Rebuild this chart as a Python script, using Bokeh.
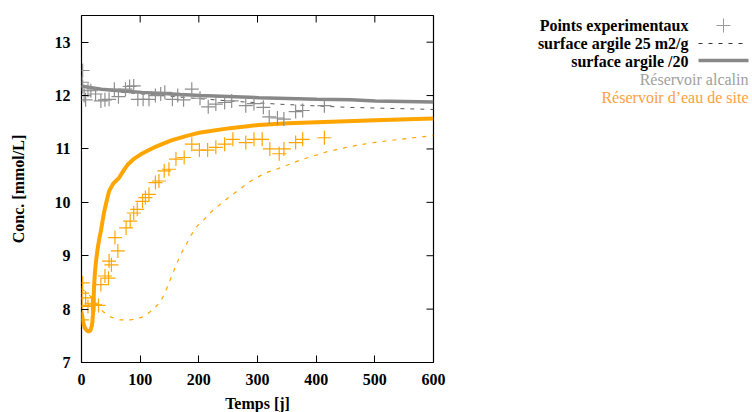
from bokeh.plotting import figure
from bokeh.models import Range1d, FixedTicker
from bokeh.layouts import row
from bokeh.embed import file_html
from bokeh.resources import INLINE
from bokeh.core.properties import value

# ---- data ----
# experimental points, alkaline reservoir (grey)
alc_pts_x = [2, 1, 2, 4.5, 7, 11, 16, 24, 33, 40, 47, 56, 63, 75, 82, 89, 96, 105, 115,
             126, 135, 142, 155, 164, 174, 188, 202, 216, 229, 244, 256, 280, 294, 310,
             320, 334, 345, 365, 377, 414]
alc_pts_y = [12.47, 12.25, 12.17, 12.0, 11.92, 12.1, 12.09, 12.03, 11.9, 11.92, 11.93,
             12.12, 11.98, 12.12, 12.17, 12.18, 11.93, 11.93, 11.93, 12.0, 12.03, 12.06,
             11.93, 12.0, 11.92, 12.12, 11.95, 11.79, 11.84, 11.87, 11.9, 11.81, 11.85,
             11.78, 11.6, 11.58, 11.56, 11.7, 11.72, 11.81]
# experimental points, site water reservoir (orange)
site_pts_x = [2, 1, 1, 1, 7, 11, 17, 23, 29, 33, 40, 46, 47, 51, 57, 62, 76, 83, 89, 95,
              104, 109, 115, 126, 132, 141, 149, 161, 175, 188, 201, 215, 229, 244, 258,
              280, 294, 308, 321, 337, 345, 365, 377, 414]
site_pts_y = [8.49, 8.3, 8.07, 7.8, 8.21, 8.05, 8.11, 8.08, 8.07, 8.46, 8.62, 8.58, 8.9,
              8.83, 9.34, 9.09, 9.52, 9.65, 9.8, 9.87, 10.02, 10.09, 10.15, 10.37, 10.4,
              10.59, 10.62, 10.81, 10.84, 11.09, 10.98, 10.98, 11.03, 11.09, 11.18, 11.12,
              11.18, 11.18, 11.0, 10.91, 11.0, 11.12, 11.18, 11.21]
# model, clay surface 25 m2/g (dashed)
alc_s25_x = [0, 29, 54, 103, 169, 203, 252, 334, 453, 600]
alc_s25_y = [12.19, 12.12, 12.08, 12.03, 11.97, 11.94, 11.9, 11.84, 11.78, 11.74]
site_s25_x = [0, 13, 25, 37, 50, 65, 84, 104, 121, 134, 142, 149, 156, 162, 169, 178,
              186, 196, 209, 223, 237, 252, 270, 294, 316, 340, 375, 419, 460, 498, 550, 600]
site_s25_y = [8.38, 8.27, 8.1, 7.95, 7.85, 7.8, 7.8, 7.85, 7.98, 8.13, 8.3, 8.49, 8.68,
              8.85, 9.02, 9.2, 9.37, 9.54, 9.68, 9.84, 9.97, 10.1, 10.25, 10.44, 10.56,
              10.65, 10.8, 10.95, 11.05, 11.12, 11.19, 11.25]
# model, clay surface /20 (solid)
alc_s20_x = [0, 14, 34, 54, 103, 169, 203, 302, 401, 459, 501, 600]
alc_s20_y = [12.18, 12.15, 12.12, 12.1, 12.06, 12.02, 12.0, 11.96, 11.93, 11.92, 11.9, 11.88]
site_s20_x = [0, 3, 6, 9, 12, 15, 17, 18.5, 19.5, 20.5, 21.6, 23, 25, 27, 30, 33, 36, 39,
              43, 47, 54, 64, 72, 79, 90, 101, 115, 128, 153, 178, 203, 253, 302, 352,
              401, 501, 600]
site_s20_y = [7.95, 7.75, 7.64, 7.6, 7.58, 7.6, 7.66, 7.75, 7.9, 8.15, 8.46, 8.7, 8.92,
              9.09, 9.3, 9.46, 9.66, 9.84, 10.03, 10.21, 10.35, 10.46, 10.6, 10.71, 10.82,
              10.9, 10.98, 11.05, 11.16, 11.24, 11.31, 11.39, 11.45, 11.48, 11.5, 11.54,
              11.57]

x_ticks = [0, 100, 200, 300, 400, 500, 600]
y_ticks = [7, 8, 9, 10, 11, 12, 13]
legend_labels = ["Points experimentaux", "surface argile 25 m2/g", "surface argile /20"]
reservoir_labels = ["Réservoir alcalin", "Réservoir d\u2019eau de site"]

GREY = "#888888"
GREY_PTS = "#8e8e8e"
ORANGE = "#ffa500"
FONT = "Liberation Serif"

X0, X1, Y0, Y1 = 0, 600, 7, 13.5
FW, FH = 352, 347          # frame size in px
LEFT, TOP, RIGHT = 81, 15, 20
MAIN_W = LEFT + FW + RIGHT

p = figure(frame_width=FW, frame_height=FH, x_range=Range1d(X0, X1), y_range=Range1d(Y0, Y1),
           output_backend="svg", toolbar_location=None,
           min_border_left=LEFT, min_border_top=TOP, min_border_right=RIGHT,
           min_border_bottom=10)
p.grid.visible = False
p.outline_line_color = "black"
p.outline_line_width = 1.2
p.background_fill_color = "white"

for ax in (p.xaxis[0], p.yaxis[0]):
    ax.major_tick_in = 7
    ax.major_tick_out = 0
    ax.minor_tick_line_color = None
    ax.axis_line_color = None
    ax.major_tick_line_color = "black"
    ax.major_label_text_font = FONT
    ax.major_label_text_font_style = "bold"
    ax.major_label_text_font_size = "16px"
    ax.major_label_text_color = "black"
    ax.axis_label_text_font = FONT
    ax.axis_label_text_font_style = "bold"
    ax.axis_label_text_font_size = "16px"
    ax.axis_label_text_color = "black"

p.xaxis.ticker = FixedTicker(ticks=x_ticks)
p.yaxis.ticker = FixedTicker(ticks=y_ticks)
p.xaxis.axis_label = "Temps [j]"
p.yaxis.axis_label = "Conc. [mmol/L]"
p.xaxis.major_label_standoff = 11
p.xaxis.axis_label_standoff = 7
p.yaxis.major_label_standoff = 11
p.yaxis.axis_label_standoff = 25

# mirrored ticks (right and top), 7 px long
dx = 7 * (X1 - X0) / FW
dy = 7 * (Y1 - Y0) / FH
p.segment(x0=[X1 - dx] * len(y_ticks), y0=y_ticks, x1=[X1] * len(y_ticks), y1=y_ticks,
          line_color="black", line_width=1)
p.segment(x0=x_ticks, y0=[Y1 - dy] * len(x_ticks), x1=x_ticks, y1=[Y1] * len(x_ticks),
          line_color="black", line_width=1)

# models
p.line(alc_s25_x, alc_s25_y, line_color="#555555", line_width=1, line_dash="4 6")
p.line(site_s25_x, site_s25_y, line_color=ORANGE, line_width=1.2, line_dash="4 6")
p.line(alc_s20_x, alc_s20_y, line_color=GREY, line_width=3.5)
p.line(site_s20_x, site_s20_y, line_color=ORANGE, line_width=4)
# points
p.scatter(alc_pts_x, alc_pts_y, marker="cross", size=14, line_color=GREY_PTS, line_width=1.2)
p.scatter(site_pts_x, site_pts_y, marker="cross", size=14, line_color=ORANGE, line_width=1.2)

# ---- legend panel: its frame is aligned with the main frame; coords = page pixels ----
LG_W = 752 - MAIN_W
lg = figure(frame_width=LG_W, frame_height=FH, x_range=Range1d(MAIN_W, 752),
            y_range=Range1d(TOP + FH, TOP), output_backend="svg", toolbar_location=None,
            min_border_left=0, min_border_right=0, min_border_top=TOP, min_border_bottom=10)
lg.axis.visible = False
lg.grid.visible = False
lg.outline_line_color = None

lg.text(x=[688] * 3, y=[25, 43, 61], text=legend_labels, text_align="right",
        text_baseline="middle", text_font=value(FONT), text_font_style="bold",
        text_font_size="16px", text_color="black")
lg.text(x=[748] * 2, y=[79, 97], text=reservoir_labels, text_align="right",
        text_baseline="middle", text_font=value(FONT), text_font_size="16px",
        text_color=["#a0a0a0", "#ffa040"])
lg.scatter([723], [25], marker="cross", size=14, line_color="#999999", line_width=1)
lg.line([698, 748], [43, 43], line_color="#333333", line_width=1, line_dash="4 6")
lg.line([698, 748], [60, 60], line_color=GREY, line_width=3.5)

layout = row(p, lg)
open("out.html", "w").write(file_html(layout, INLINE))
